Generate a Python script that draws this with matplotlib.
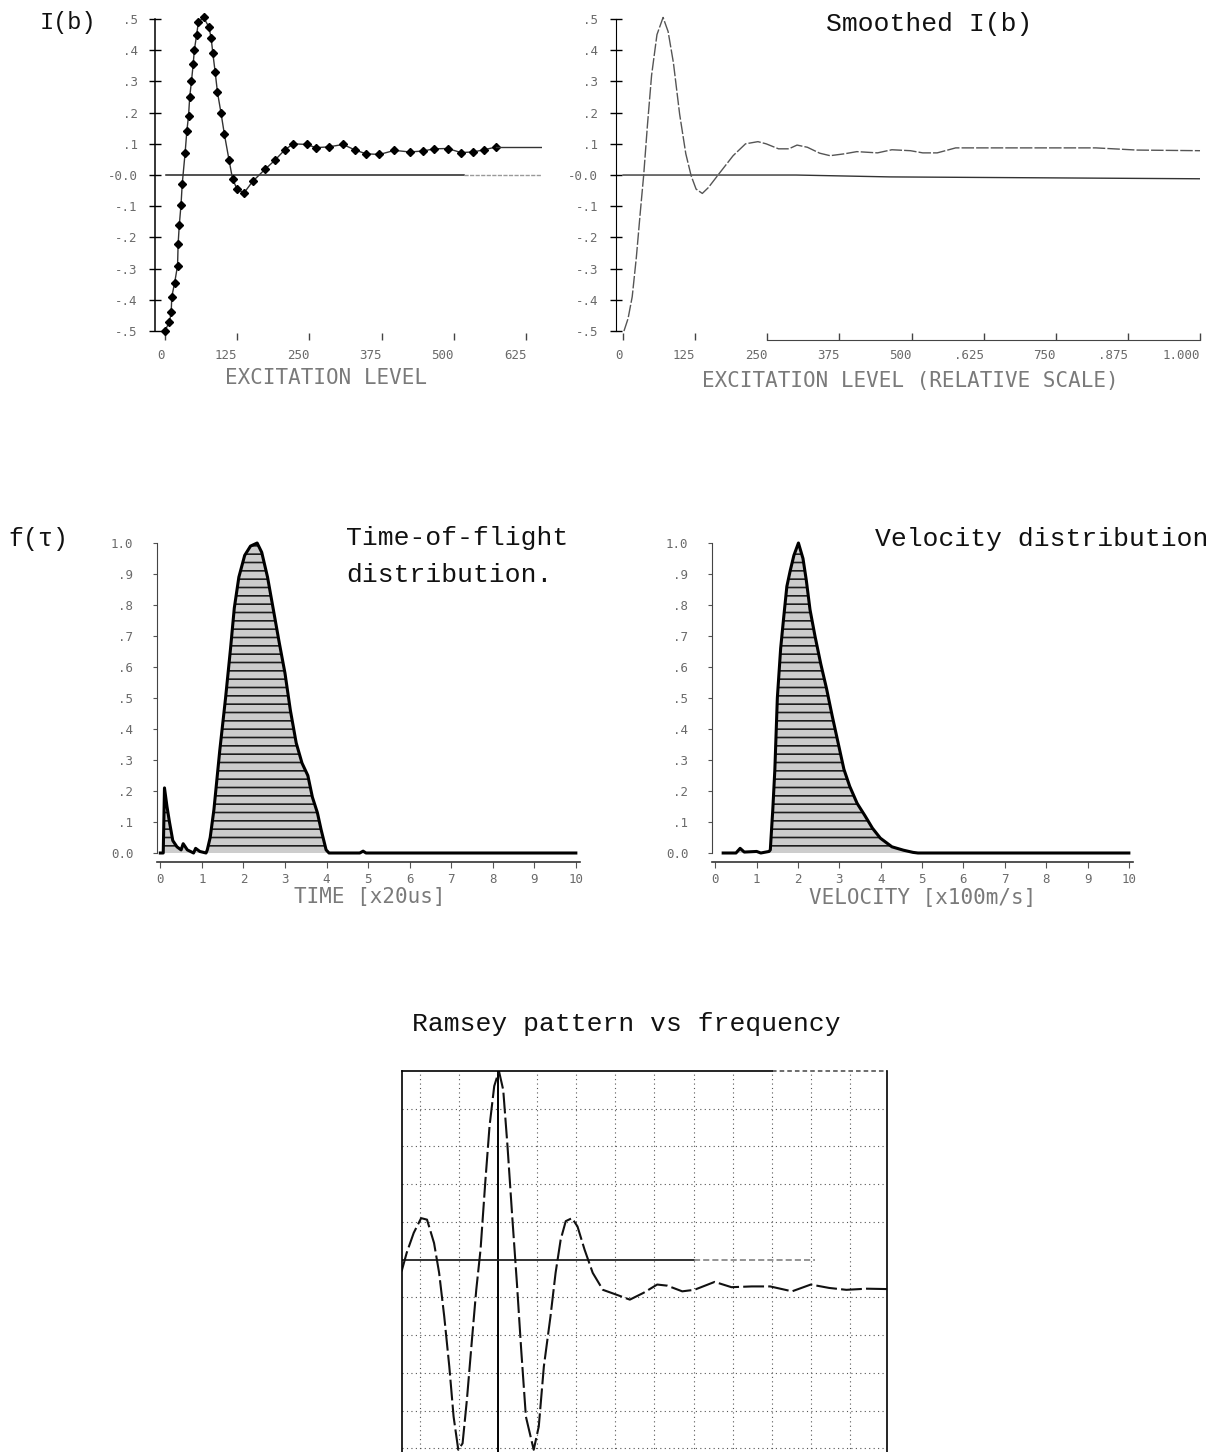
import matplotlib
matplotlib.use('Agg')
import matplotlib.pyplot as plt

# ---------------- data ----------------
ib_x = [0, 8, 11, 12, 17, 22, 23, 25, 28, 30, 35, 38, 41, 43, 46, 49, 51, 55, 58, 67,
        76, 80, 83, 87, 91, 97, 103, 111, 117, 125, 137, 152, 173, 190, 207, 222, 245,
        261, 283, 308, 329, 348, 371, 397, 423, 447, 465, 489, 512, 533, 552, 573]
ib_y = [-0.50, -0.47, -0.44, -0.39, -0.345, -0.29, -0.22, -0.16, -0.095, -0.03, 0.07,
        0.14, 0.19, 0.25, 0.30, 0.355, 0.40, 0.45, 0.49, 0.505, 0.475, 0.44, 0.39, 0.33,
        0.265, 0.20, 0.13, 0.048, -0.012, -0.046, -0.057, -0.02, 0.018, 0.047, 0.08, 0.10,
        0.098, 0.088, 0.09, 0.098, 0.08, 0.068, 0.066, 0.079, 0.074, 0.077, 0.084, 0.085,
        0.072, 0.074, 0.081, 0.09]
ib_tail_x = [573, 650]
ib_tail_y = [0.09, 0.09]
ib_base_x = [2, 517]
ib_base_faint_x = [517, 650]

sm_x = [1.5, 8.6, 15.8, 22.9, 30, 35.7, 42.2, 49.4, 58.7, 69.3, 78, 87.2, 98, 108.7,
        117.9, 126.5, 137.3, 147.9, 165.8, 190.7, 212.2, 233.7, 248, 269.4, 287.3, 301.5,
        319.4, 340.8, 358.7, 383.7, 405.1, 440.9, 465.9, 498, 519.4, 544.4, 558.6, 576.5,
        819.4, 890.8, 1000]
sm_y = [-0.5, -0.46, -0.39, -0.265, -0.115, 0.0, 0.16, 0.32, 0.45, 0.505, 0.46, 0.36,
        0.195, 0.068, -0.002, -0.045, -0.059, -0.04, 0.003, 0.062, 0.10, 0.107, 0.10,
        0.084, 0.084, 0.096, 0.089, 0.07, 0.062, 0.068, 0.075, 0.071, 0.081, 0.078, 0.071,
        0.071, 0.078, 0.087, 0.087, 0.08, 0.078]
sm_base_x = [0, 300, 462, 1000]
sm_base_y = [0.0, 0.0, -0.006, -0.012]

tof_x = [0.0, 0.07, 0.1, 0.16, 0.22, 0.3, 0.4, 0.5, 0.55, 0.65, 0.8, 0.85, 0.95, 1.1,
         1.13, 1.2, 1.29, 1.43, 1.57, 1.69, 1.78, 1.89, 2.03, 2.17, 2.33, 2.44, 2.58,
         2.72, 2.86, 3.0, 3.13, 3.27, 3.41, 3.55, 3.66, 3.78, 3.87, 3.99, 4.06, 4.8, 4.88,
         4.95, 10.0]
tof_y = [0.0, 0.0, 0.21, 0.15, 0.10, 0.04, 0.02, 0.01, 0.03, 0.01, 0.0, 0.015, 0.005,
         0.0, 0.01, 0.05, 0.14, 0.33, 0.50, 0.66, 0.79, 0.89, 0.96, 0.99, 1.0, 0.97, 0.89,
         0.785, 0.68, 0.58, 0.46, 0.355, 0.29, 0.25, 0.18, 0.13, 0.075, 0.01, 0.0, 0.0,
         0.006, 0.0, 0.0]

vel_x = [0.19, 0.5, 0.6, 0.7, 1.0, 1.1, 1.3, 1.33, 1.35, 1.39, 1.44, 1.5, 1.58, 1.65,
         1.73, 1.81, 1.9, 2.01, 2.12, 2.2, 2.29, 2.41, 2.55, 2.69, 2.83, 2.97, 3.11, 3.25,
         3.43, 3.62, 3.8, 3.99, 4.27, 4.55, 4.78, 4.9, 10.0]
vel_y = [0.0, 0.0, 0.015, 0.003, 0.005, 0.0, 0.005, 0.01, 0.054, 0.14, 0.27, 0.5, 0.66,
         0.755, 0.86, 0.91, 0.96, 1.0, 0.95, 0.88, 0.785, 0.70, 0.61, 0.53, 0.44, 0.355,
         0.27, 0.215, 0.16, 0.12, 0.08, 0.048, 0.02, 0.009, 0.002, 0.0, 0.0]

ram_x = [-2.47, -2.34, -2.16, -1.97, -1.82, -1.64, -1.51, -1.38, -1.25, -1.14, -1.02,
         -0.91, -0.80, -0.67, -0.56, -0.45, -0.33, -0.22, -0.10, 0.02, 0.13, 0.24, 0.36,
         0.48, 0.59, 0.71, 0.91, 1.04, 1.17, 1.34, 1.47, 1.6, 1.73, 1.89, 2.03, 2.21, 2.42,
         2.68, 3.03, 3.37, 3.72, 4.07, 4.33, 4.71, 5.02, 5.54, 5.97, 6.49, 6.96, 7.52, 8.0,
         8.47, 8.91, 9.43, 9.95]
ram_y = [-0.31, 0.18, 0.71, 1.1, 1.06, 0.44, -0.35, -1.5, -2.83, -4.16, -5.04, -4.87,
         -3.72, -2.12, -0.8, 0.27, 2.04, 3.54, 4.6, 5.0, 4.5, 3.0, 1.15, -0.62, -2.39,
         -4.16, -5.04, -4.42, -2.83, -1.5, -0.35, 0.53, 1.02, 1.1, 0.88, 0.27, -0.35, -0.8,
         -0.93, -1.06, -0.88, -0.66, -0.69, -0.84, -0.8, -0.59, -0.73, -0.71, -0.71, -0.84,
         -0.66, -0.75, -0.80, -0.77, -0.78]

ib_yticks = [0.5, 0.4, 0.3, 0.2, 0.1, 0.0, -0.1, -0.2, -0.3, -0.4, -0.5]
ib_ylabels = ['.5', '.4', '.3', '.2', '.1', '-0.0', '-.1', '-.2', '-.3', '-.4', '-.5']
ib_xticks = [0, 125, 250, 375, 500, 625]
ib_xlabels = ['0', '125', '250', '375', '500', '625']
sm_xticks = [0, 125, 250, 375, 500, 625, 750, 875, 1000]
sm_xlabels = ['0', '125', '250', '375', '500', '.625', '750', '.875', '1.000']
dist_yticks = [1.0, 0.9, 0.8, 0.7, 0.6, 0.5, 0.4, 0.3, 0.2, 0.1, 0.0]
dist_ylabels = ['1.0', '.9', '.8', '.7', '.6', '.5', '.4', '.3', '.2', '.1', '0.0']
dist_xticks = list(range(0, 11))
dist_xlabels = [str(v) for v in dist_xticks]
ram_xgrid = list(range(-2, 10))
ram_ygrid = [4, 3, 2, 1, -1, -2, -3, -4, -5]

# ---------------- figure ----------------
W, H = 1206, 1452
fig = plt.figure(figsize=(W / 100, H / 100), dpi=100)
fig.patch.set_facecolor('white')

TYPE = ['Liberation Mono', 'DejaVu Sans Mono']
DOT = ['DejaVu Sans Mono']
DOTC = '#6a6a6a'


def ax_px(l, r, t, b):
    return fig.add_axes([l / W, 1 - b / H, (r - l) / W, (b - t) / H])


def ftext(x, y, s, size, ha='left', family=TYPE, color='#111111'):
    fig.text(x / W, 1 - y / H, s, fontsize=size, ha=ha, va='center',
             family=family, color=color)


def style_ticklabels(ax, size=9):
    for lab in ax.get_xticklabels() + ax.get_yticklabels():
        lab.set_family(DOT)
        lab.set_color(DOTC)
        lab.set_fontsize(size)


# ---- top-left: I(b) ----
ax1 = ax_px(155, 542, 15.9, 340.4)
ax1.set_xlim(-17, 652)
ax1.set_ylim(-0.53, 0.51)
ax1.plot(ib_base_x, [0, 0], color='#222222', lw=1.1)
ax1.plot(ib_base_faint_x, [0, 0], color='#999999', lw=1.0, ls=(0, (3, 1)))
ax1.plot(ib_x, ib_y, color='#333333', lw=1.0, marker='D', ms=4.2, mfc='black',
         mec='black', clip_on=False)
ax1.plot(ib_tail_x, ib_tail_y, color='#333333', lw=1.0)
for s in ['top', 'right', 'bottom']:
    ax1.spines[s].set_visible(False)
ax1.spines['left'].set_bounds(-0.5, 0.5)
ax1.spines['left'].set_linewidth(1.1)
ax1.set_yticks(ib_yticks)
ax1.set_yticklabels(ib_ylabels)
ax1.set_xticks(ib_xticks)
ax1.set_xticklabels(ib_xlabels, ha='right')
ax1.tick_params(axis='y', direction='inout', length=9, width=1, pad=8)
ax1.tick_params(axis='x', direction='in', length=5, width=1, pad=6, color='#444444')
style_ticklabels(ax1)

# ---- top-right: smoothed I(b) ----
ax2 = ax_px(615.6, 1200, 15.9, 340.4)
ax2.set_xlim(-13, 1000)
ax2.set_ylim(-0.53, 0.51)
ax2.plot(sm_base_x, sm_base_y, color='#333333', lw=1.0)
ax2.plot(sm_x, sm_y, color='#555555', lw=1.0, ls=(0, (9, 1.5)), clip_on=False)
for s in ['top', 'right']:
    ax2.spines[s].set_visible(False)
ax2.spines['left'].set_bounds(-0.5, 0.5)
ax2.spines['bottom'].set_bounds(250, 1000)
ax2.spines['bottom'].set_color('#444444')
ax2.set_yticks(ib_yticks)
ax2.set_yticklabels(ib_ylabels)
ax2.set_xticks(sm_xticks)
ax2.set_xticklabels(sm_xlabels, ha='right')
ax2.tick_params(axis='y', direction='inout', length=9, width=1, pad=8)
ax2.tick_params(axis='x', direction='in', length=5, width=1, pad=6, color='#444444')
style_ticklabels(ax2)


# ---- middle: distributions ----
def dist_axes(ax, xs, ys):
    ax.set_xlim(-0.08, 10.1)
    ax.set_ylim(-0.03, 1.0)
    ax.fill_between(xs, ys, 0, facecolor='#cdcdcd', edgecolor='#1e1e1e',
                    hatch='--', linewidth=0)
    ax.plot(xs, ys, color='black', lw=2.2, clip_on=False)
    for s in ['top', 'right']:
        ax.spines[s].set_visible(False)
    ax.spines['left'].set_bounds(0, 1.0)
    ax.spines['left'].set_color('#444444')
    ax.spines['bottom'].set_color('#333333')
    ax.spines['bottom'].set_linewidth(1.2)
    ax.set_yticks(dist_yticks)
    ax.set_yticklabels(dist_ylabels)
    ax.set_xticks(dist_xticks)
    ax.set_xticklabels(dist_xlabels)
    ax.tick_params(axis='y', direction='out', length=3, width=0.8, pad=14, color='#555555')
    ax.tick_params(axis='x', direction='out', length=4, width=0.8, pad=4, color='#555555')
    style_ticklabels(ax)


plt.rcParams['hatch.linewidth'] = 1.2
ax3 = ax_px(157, 580, 543, 862.3)
dist_axes(ax3, tof_x, tof_y)
ax4 = ax_px(712, 1133, 543, 862.3)
dist_axes(ax4, vel_x, vel_y)

# ---- bottom: Ramsey pattern ----
ax5 = ax_px(402, 887, 1071, 1459.6)
ax5.set_xlim(-2.46, 9.95)
ax5.set_ylim(-5.3, 5.0)
for gx in ram_xgrid:
    if gx != 0:
        ax5.axvline(gx, color='#555555', lw=0.8, ls=(0, (1, 3)))
for gy in ram_ygrid:
    ax5.axhline(gy, color='#555555', lw=0.8, ls=(0, (1, 3)))
ax5.axvline(0, color='black', lw=1.4)
ax5.plot([-2.46, 5.0], [0, 0], color='#222222', lw=1.3)
ax5.plot([5.0, 8.1], [0, 0], color='#777777', lw=1.1, ls=(0, (4, 2)))
ax5.plot([7.0, 9.95], [5.0, 5.0], color='#444444', lw=1.1, ls=(0, (3, 2)), clip_on=False)
ax5.plot(ram_x, ram_y, color='#111111', lw=1.5, ls=(0, (10, 2)))
ax5.spines['bottom'].set_visible(False)
ax5.spines['top'].set_bounds(-2.46, 7.0)
for s in ['left', 'right', 'top']:
    ax5.spines[s].set_linewidth(1.2)
ax5.set_xticks([])
ax5.set_yticks([])

# ---------------- texts ----------------
ftext(40, 23, 'I(b)', 17)
ftext(826, 24, 'Smoothed I(b)', 19)
ftext(326, 378, 'EXCITATION LEVEL', 15, ha='center', family=DOT, color='#7a7a7a')
ftext(910, 381, 'EXCITATION LEVEL (RELATIVE SCALE)', 15, ha='center', family=DOT,
      color='#7a7a7a')
ftext(8, 539, 'f(τ)', 18)
ftext(346, 538, 'Time-of-flight', 19)
ftext(346, 575, 'distribution.', 19)
ftext(875, 539, 'Velocity distribution', 19)
ftext(370, 897, 'TIME [x20us]', 15, ha='center', family=DOT, color='#7a7a7a')
ftext(923, 898, 'VELOCITY [x100m/s]', 15, ha='center', family=DOT, color='#7a7a7a')
ftext(412, 1024, 'Ramsey pattern vs frequency', 19)

fig.savefig('out.png', dpi=100, facecolor='white')
